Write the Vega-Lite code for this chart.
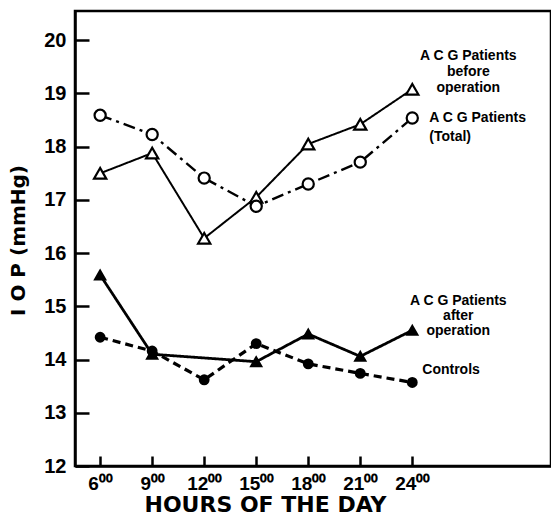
{
  "$schema": "https://vega.github.io/schema/vega-lite/v6.json",
  "width": 476,
  "height": 455,
  "autosize": {"type": "none"},
  "padding": {"left": 75, "top": 11, "right": 0, "bottom": 50},
  "background": "white",
  "config": {
    "view": {"stroke": "black", "strokeWidth": 2.5},
    "axis": {"grid": false, "domainColor": "black", "domainWidth": 2.5, "tickColor": "black", "tickWidth": 2.5, "labelColor": "black", "titleColor": "black"}
  },
  "data": {
    "values": [
      {"hour": 6, "iop": 17.5, "group": "before"},
      {"hour": 9, "iop": 17.88, "group": "before"},
      {"hour": 12, "iop": 16.28, "group": "before"},
      {"hour": 15, "iop": 17.05, "group": "before"},
      {"hour": 18, "iop": 18.05, "group": "before"},
      {"hour": 21, "iop": 18.42, "group": "before"},
      {"hour": 24, "iop": 19.08, "group": "before"},
      {"hour": 6, "iop": 18.59, "group": "total"},
      {"hour": 9, "iop": 18.23, "group": "total"},
      {"hour": 12, "iop": 17.41, "group": "total"},
      {"hour": 15, "iop": 16.88, "group": "total"},
      {"hour": 18, "iop": 17.3, "group": "total"},
      {"hour": 21, "iop": 17.71, "group": "total"},
      {"hour": 24, "iop": 18.54, "group": "total"},
      {"hour": 6, "iop": 15.59, "group": "after"},
      {"hour": 9, "iop": 14.1, "group": "after"},
      {"hour": 15, "iop": 13.96, "group": "after"},
      {"hour": 18, "iop": 14.48, "group": "after"},
      {"hour": 21, "iop": 14.06, "group": "after"},
      {"hour": 24, "iop": 14.55, "group": "after"},
      {"hour": 6, "iop": 14.42, "group": "controls"},
      {"hour": 9, "iop": 14.16, "group": "controls"},
      {"hour": 12, "iop": 13.62, "group": "controls"},
      {"hour": 15, "iop": 14.3, "group": "controls"},
      {"hour": 18, "iop": 13.92, "group": "controls"},
      {"hour": 21, "iop": 13.74, "group": "controls"},
      {"hour": 24, "iop": 13.57, "group": "controls"}
    ]
  },
  "encoding": {
    "x": {
      "field": "hour", "type": "quantitative",
      "scale": {"domain": [4.55, 32], "nice": false, "zero": false},
      "axis": {
        "values": [6, 9, 12, 15, 18, 21, 24],
        "labelExpr": "datum.value + '⁰⁰'",
        "tickSize": -10,
        "labelPadding": 18,
        "labelFont": "Liberation Sans",
        "labelFontWeight": "bold",
        "labelFontSize": 19,
        "title": "HOURS OF THE DAY",
        "titleFont": "DejaVu Sans",
        "titleFontWeight": "bold",
        "titleFontSize": 22,
        "titleX": 190,
        "titleY": 45,
        "titleAlign": "center",
        "titleBaseline": "alphabetic"
      }
    },
    "y": {
      "field": "iop", "type": "quantitative",
      "scale": {"domain": [12, 20.55], "nice": false, "zero": false},
      "axis": {
        "values": [12, 13, 14, 15, 16, 17, 18, 19, 20],
        "tickSize": -14,
        "labelPadding": 23,
        "labelFont": "Liberation Sans",
        "labelFontWeight": "bold",
        "labelFontSize": 20,
        "title": "I O P  (mmHg)",
        "titleFont": "DejaVu Sans",
        "titleFontWeight": "bold",
        "titleFontSize": 20,
        "titleX": -47,
        "titleY": 229,
        "titleAlign": "center"
      }
    }
  },
  "layer": [
    {
      "mark": {"type": "line", "color": "black"},
      "encoding": {
        "detail": {"field": "group"},
        "strokeDash": {"field": "group", "type": "nominal", "scale": {"domain": ["before", "total", "after", "controls"], "range": [[1, 0], [12, 5, 3, 5], [1, 0], [8, 5]]}, "legend": null},
        "strokeWidth": {"field": "group", "type": "nominal", "scale": {"domain": ["before", "total", "after", "controls"], "range": [2, 3.2, 4, 2.5]}, "legend": null}
      }
    },
    {
      "mark": {"type": "point", "stroke": "black", "strokeWidth": 2.2, "opacity": 1},
      "encoding": {
        "shape": {"field": "group", "type": "nominal", "scale": {"domain": ["before", "total", "after", "controls"], "range": ["triangle-up", "circle", "triangle-up", "circle"]}, "legend": null},
        "fill": {"field": "group", "type": "nominal", "scale": {"domain": ["before", "total", "after", "controls"], "range": ["white", "white", "black", "black"]}, "legend": null},
        "size": {"field": "group", "type": "nominal", "scale": {"domain": ["before", "total", "after", "controls"], "range": [150, 75, 190, 85]}, "legend": null}
      }
    },
    {
      "transform": [{"filter": "datum.group === 'before' && datum.hour === 24"}],
      "mark": {"type": "text", "text": ["A C G  Patients", "before", "operation"], "align": "center", "baseline": "top", "dx": 56, "dy": -40, "lineHeight": 16, "font": "Liberation Sans", "fontWeight": "bold", "fontSize": 14, "color": "black"}
    },
    {
      "transform": [{"filter": "datum.group === 'total' && datum.hour === 24"}],
      "mark": {"type": "text", "text": ["A C G  Patients", " (Total)"], "align": "left", "baseline": "top", "dx": 17, "dy": -7, "lineHeight": 19, "font": "Liberation Sans", "fontWeight": "bold", "fontSize": 14, "color": "black"}
    },
    {
      "transform": [{"filter": "datum.group === 'after' && datum.hour === 24"}],
      "mark": {"type": "text", "text": ["A C G  Patients", "after", "operation"], "align": "center", "baseline": "top", "dx": 46, "dy": -36, "lineHeight": 15, "font": "Liberation Sans", "fontWeight": "bold", "fontSize": 14, "color": "black"}
    },
    {
      "transform": [{"filter": "datum.group === 'controls' && datum.hour === 24"}],
      "mark": {"type": "text", "text": "Controls", "align": "left", "baseline": "top", "dx": 10, "dy": -19, "font": "Liberation Sans", "fontWeight": "bold", "fontSize": 14, "color": "black"}
    }
  ]
}
